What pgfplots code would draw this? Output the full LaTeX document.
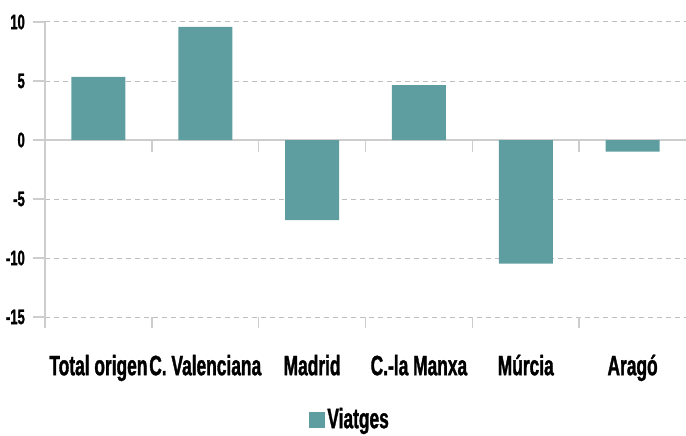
\documentclass[border=0pt]{standalone}
\usepackage{fontspec}
\setmainfont{Liberation Sans}[FakeStretch=0.62, BoldFeatures={FakeBold=1.2}]
\usepackage{pgfplots}
\pgfplotsset{compat=1.18}
\definecolor{bar}{RGB}{95,158,160}
\definecolor{gridc}{RGB}{190,190,190}
\definecolor{axc}{RGB}{205,205,205}
\begin{document}
\begin{tikzpicture}
\begin{axis}[
  scale only axis, clip=false,
  width=641bp, height=295bp,
  xmin=-0.5, xmax=5.5,
  ymin=-15, ymax=10,
  axis line style={draw=none},
  ybar, bar width=54bp,
  xtick={0,1,2,3,4,5},
  xticklabels={Total origen,C. Valenciana,Madrid,C.-la Manxa,Múrcia,Aragó},
  xtick pos=bottom, ytick pos=left,
  x tick style={draw=none},
  xticklabel style={font=\bfseries\fontsize{28bp}{30bp}\selectfont, anchor=north, text height=20bp, text depth=6bp, inner sep=0pt, yshift=-26bp},
  ytick={-15,-10,-5,0,5,10},
  y tick style={draw=axc, line width=1.5bp},
  major tick length=12bp, tick align=outside,
  yticklabel style={font=\bfseries\fontsize{21bp}{23bp}\selectfont, inner sep=0pt, xshift=-8bp},
  /pgf/number format/assume math mode=true,
  ymajorgrids,
  grid style={draw=gridc, dashed, dash pattern=on 5bp off 4bp, line width=1bp},
  legend style={draw=none, at={(0.476,-0.345)}, anchor=center, font=\bfseries\fontsize{28bp}{30bp}\selectfont, inner sep=0pt},
  legend image code/.code={\fill[#1] (-2bp,-9bp) rectangle (14bp,7bp);},
]
\draw[axc, line width=1.6bp] (axis cs:-0.5,0) -- (axis cs:5.5,0);
\draw[axc, line width=2bp] (axis cs:-0.5,10) -- ([yshift=-11bp]axis cs:-0.5,-15);
\pgfplotsinvokeforeach{0.5,1.5,2.5,3.5,4.5}{
  \draw[axc, line width=1.5bp] (axis cs:#1,0) -- ([yshift=-12bp]axis cs:#1,0);
  \draw[axc, line width=1.5bp] (axis cs:#1,-15) -- ([yshift=-11bp]axis cs:#1,-15);
}
\addplot[fill=bar, draw=none] coordinates {(0,5.34) (1,9.58) (2,-6.8) (3,4.66) (4,-10.48) (5,-0.99)};
\addlegendentry{Viatges}
\end{axis}
\pgfresetboundingbox
\path ([xshift=-45bp,yshift=-118bp]current axis.south west) rectangle ([yshift=22bp]current axis.north east);
\end{tikzpicture}
\end{document}
